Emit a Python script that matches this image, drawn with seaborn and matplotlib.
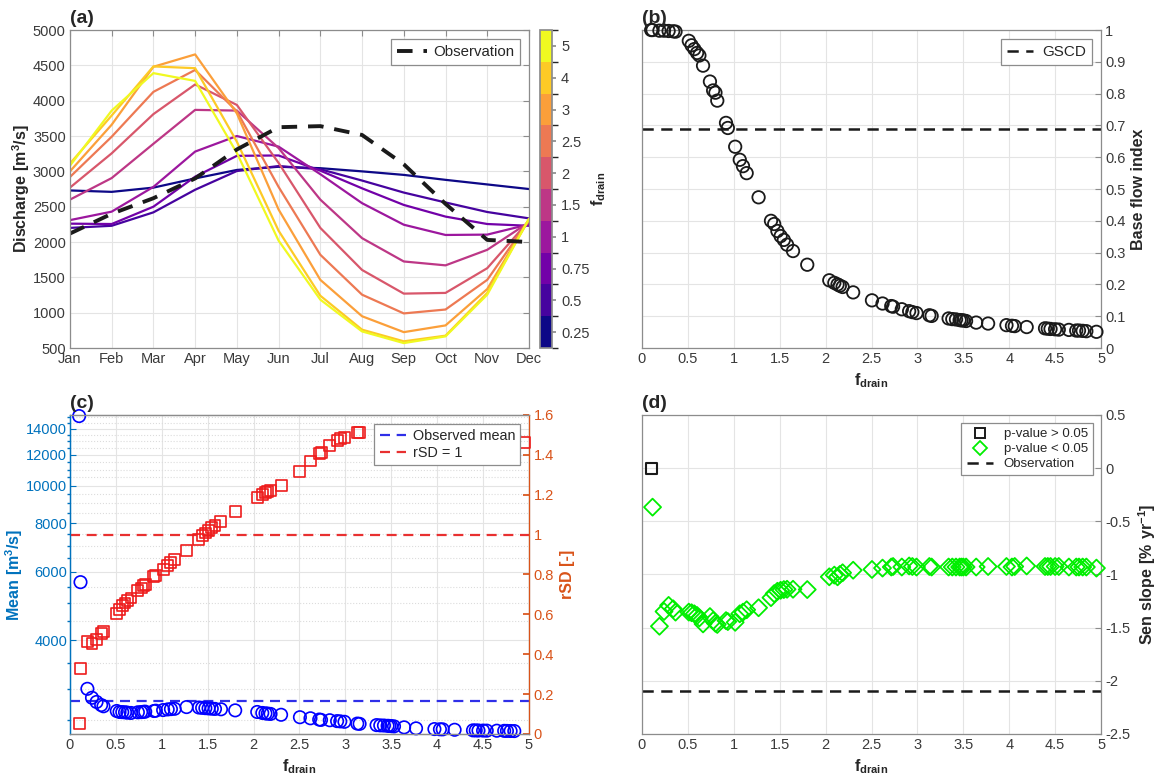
import numpy as np
import pandas as pd
import matplotlib
matplotlib.use("Agg")
import matplotlib.pyplot as plt
import seaborn as sns
from matplotlib.colors import ListedColormap, BoundaryNorm
from matplotlib.cm import ScalarMappable
from matplotlib.lines import Line2D
from matplotlib.ticker import FixedLocator, NullFormatter, FuncFormatter

# ---------------- data: panel (a) ----------------
months = ["Jan", "Feb", "Mar", "Apr", "May", "Jun", "Jul", "Aug", "Sep", "Oct", "Nov", "Dec"]
f_levels = [0.25, 0.5, 0.75, 1, 1.5, 2, 2.5, 3, 4, 5]
q_f025 = [2730, 2710, 2770, 2900, 3020, 3065, 3045, 3000, 2950, 2880, 2815, 2750]
q_f050 = [2200, 2230, 2420, 2740, 3005, 3075, 3030, 2870, 2700, 2560, 2425, 2335]
q_f075 = [2260, 2255, 2500, 2925, 3220, 3225, 3010, 2760, 2525, 2360, 2255, 2230]
q_f100 = [2310, 2430, 2780, 3280, 3500, 3350, 2960, 2550, 2245, 2100, 2105, 2250]
q_f150 = [2600, 2905, 3390, 3870, 3860, 3330, 2600, 2055, 1725, 1670, 1890, 2280]
q_f200 = [2770, 3255, 3810, 4230, 3940, 3120, 2200, 1605, 1270, 1280, 1630, 2300]
q_f250 = [2920, 3490, 4125, 4435, 3850, 2780, 1820, 1255, 990, 1045, 1465, 2310]
q_f300 = [3000, 3660, 4480, 4655, 3820, 2460, 1465, 950, 725, 820, 1335, 2320]
q_f400 = [3110, 3790, 4485, 4460, 3420, 2160, 1240, 760, 595, 675, 1280, 2325]
q_f500 = [3080, 3860, 4390, 4280, 3260, 2020, 1185, 735, 570, 665, 1255, 2330]
q_obs = [2120, 2400, 2620, 2900, 3310, 3625, 3640, 3515, 3100, 2540, 2030, 2000]
q_sim = [q_f025, q_f050, q_f075, q_f100, q_f150, q_f200, q_f250, q_f300, q_f400, q_f500]

# ---------------- data: panels (b)-(d) ----------------
f_drain = [0.10, 0.115, 0.19, 0.24, 0.29, 0.34, 0.365, 0.51, 0.54, 0.57,
           0.60, 0.625, 0.665, 0.74, 0.775, 0.80, 0.82, 0.915, 0.935, 1.015,
           1.065, 1.10, 1.14, 1.27, 1.405, 1.44, 1.475, 1.51, 1.545, 1.58,
           1.645, 1.80, 2.04, 2.095, 2.13, 2.155, 2.185, 2.30, 2.505, 2.62,
           2.715, 2.735, 2.83, 2.91, 2.945, 2.99, 3.13, 3.155, 3.34, 3.38,
           3.42, 3.46, 3.48, 3.50, 3.53, 3.64, 3.77, 3.97, 4.03, 4.06,
           4.19, 4.39, 4.42, 4.45, 4.50, 4.54, 4.65, 4.73, 4.76, 4.80,
           4.84, 4.95]
bfi = [1.0, 1.0, 0.998, 0.998, 0.997, 0.996, 0.995, 0.966, 0.952, 0.94,
       0.928, 0.92, 0.888, 0.838, 0.81, 0.803, 0.778, 0.708, 0.692, 0.633,
       0.592, 0.572, 0.55, 0.474, 0.40, 0.39, 0.368, 0.352, 0.34, 0.325,
       0.305, 0.262, 0.213, 0.205, 0.20, 0.196, 0.192, 0.175, 0.15, 0.14,
       0.132, 0.13, 0.122, 0.116, 0.113, 0.11, 0.103, 0.101, 0.093, 0.091,
       0.09, 0.088, 0.087, 0.087, 0.085, 0.08, 0.077, 0.072, 0.07, 0.069,
       0.066, 0.062, 0.061, 0.06, 0.059, 0.058, 0.057, 0.055, 0.055, 0.054,
       0.053, 0.051]
mean_q = [15100, 5650, 3005, 2850, 2780, 2730, 2710, 2635, 2620, 2618,
          2615, 2610, 2605, 2615, 2618, 2622, 2625, 2635, 2640, 2650,
          2660, 2665, 2670, 2697, 2690, 2685, 2680, 2676, 2672, 2668,
          2662, 2645, 2620, 2605, 2598, 2595, 2590, 2577, 2540, 2524,
          2505, 2500, 2495, 2482, 2478, 2472, 2446, 2442, 2424, 2420,
          2418, 2414, 2412, 2410, 2406, 2392, 2378, 2368, 2365, 2364,
          2358, 2350, 2349, 2348, 2347, 2346, 2345, 2343, 2342, 2341,
          2340, np.nan]
rsd = [0.054, 0.33, 0.466, 0.456, 0.476, 0.505, 0.514, 0.606, 0.626, 0.643,
       0.657, 0.668, 0.682, 0.719, 0.732, 0.744, 0.75, 0.79, 0.795, 0.824,
       0.845, 0.86, 0.874, 0.92, 0.975, 0.995, 1.008, 1.02, 1.034, 1.047,
       1.064, 1.117, 1.188, 1.20, 1.21, 1.214, 1.221, 1.246, 1.318, 1.369,
       1.405, 1.414, 1.449, 1.474, 1.482, 1.486, 1.511, 1.512, np.nan, np.nan,
       np.nan, np.nan, np.nan, np.nan, np.nan, np.nan, np.nan, np.nan, np.nan, np.nan,
       np.nan, np.nan, np.nan, np.nan, np.nan, np.nan, np.nan, np.nan, np.nan, np.nan,
       np.nan, 1.46]
sen_slope = [0.0, -0.367, -1.487, -1.348, -1.291, -1.323, -1.354, -1.354, -1.36, -1.37,
             -1.386, -1.408, -1.465, -1.396, -1.434, -1.459, -1.47, -1.434, -1.443, -1.45,
             -1.37, -1.354, -1.332, -1.313, -1.218, -1.18, -1.158, -1.149, -1.142, -1.139,
             -1.139, -1.142, -1.022, -1.006, -1.022, -1.0, -0.984, -0.96, -0.953, -0.94,
             -0.93, -0.925, -0.93, -0.92, -0.925, -0.93, -0.925, -0.93, -0.93, -0.93,
             -0.93, -0.93, -0.93, -0.93, -0.93, -0.93, -0.925, -0.925, -0.93, -0.925,
             -0.92, -0.925, -0.925, -0.925, -0.925, -0.925, -0.93, -0.93, -0.93, -0.93,
             -0.93, -0.94]
p_significant = [False] + [True] * 71
bfi_gscd = 0.69
obs_mean_q = 2800
obs_sen_slope = -2.1

# ---------------- style ----------------
sns.set_theme(style="whitegrid")
plt.rcParams["font.family"] = ["Liberation Sans", "DejaVu Sans"]
plt.rcParams["mathtext.fontset"] = "custom"
plt.rcParams["mathtext.rm"] = "Liberation Sans"
plt.rcParams["mathtext.bf"] = "Liberation Sans:bold"
plt.rcParams["axes.unicode_minus"] = False

TICK_C = "#3a3a3a"
SPINE_C = "#8c8c8c"
GRID_C = "#e4e4e4"
BLUE_AX = "#0072BD"
ORANGE_AX = "#D95319"
FS_TICK = 10.5
FS_LAB = 11.5
DASH = (0, (4.5, 3))

fig = plt.figure(figsize=(11.58, 7.8), dpi=100)


def style_axes(ax, right=False):
    ax.set_facecolor("white")
    for s in ax.spines.values():
        s.set_color(SPINE_C)
        s.set_linewidth(0.9)
    ax.grid(True, color=GRID_C, linewidth=0.8)
    ax.tick_params(direction="in", length=4, width=0.8, color=SPINE_C,
                   labelsize=FS_TICK, labelcolor=TICK_C, pad=3)
    if right:
        ax.yaxis.tick_right()
        ax.yaxis.set_label_position("right")


def legend_box(ax, handles, labels, fs, **kw):
    lg = ax.legend(handles, labels, loc="upper right", fontsize=fs, frameon=True,
                   fancybox=False, framealpha=1, edgecolor=SPINE_C, **kw)
    lg.get_frame().set_linewidth(0.9)
    return lg


gfmt = FuncFormatter(lambda v, p: f"{v:g}")
fdrain_label = r"$\mathbf{f_{drain}}$"

# ---------------- (a) ----------------
ax_a = fig.add_axes([0.0604, 0.5538, 0.3964, 0.4077])
style_axes(ax_a)
cmap = plt.get_cmap("plasma")
palette = {f: cmap(i / 9) for i, f in enumerate(f_levels)}
df_a = pd.DataFrame({
    "month": np.tile(np.arange(12), len(f_levels)),
    "Q": np.concatenate(q_sim),
    "f": np.repeat(f_levels, 12),
})
sns.lineplot(data=df_a, x="month", y="Q", hue="f", palette=palette, legend=False,
             linewidth=1.6, ax=ax_a)
sns.lineplot(x=np.arange(12), y=q_obs, color="k", linewidth=2.8,
             linestyle=(0, (4, 2.8)), ax=ax_a)
ax_a.set_xlim(0, 11)
ax_a.set_ylim(500, 5000)
ax_a.set_xticks(np.arange(12))
ax_a.set_xticklabels(months)
ax_a.set_yticks(np.arange(500, 5001, 500))
ax_a.set_xlabel("")
ax_a.set_ylabel(r"$\mathbf{Discharge\ [m^{3}/s]}$", fontsize=FS_LAB, color="#262626",
                labelpad=1)
ax_a.tick_params(top=True, right=True)
legend_box(ax_a, [Line2D([], [], color="k", lw=2.8, ls=(0, (4, 2.8)))],
           ["Observation"], 10.8, handlelength=2.0, handletextpad=0.4,
           borderaxespad=0.6)
ax_a.text(0.0, 1.008, "(a)", transform=ax_a.transAxes, ha="left", va="bottom",
          fontsize=14, fontweight="bold")

cax = fig.add_axes([0.4663, 0.5538, 0.0104, 0.4077])
cmap10 = ListedColormap([palette[f] for f in f_levels])
norm = BoundaryNorm(np.arange(11), 10)
cb = fig.colorbar(ScalarMappable(norm=norm, cmap=cmap10), cax=cax,
                  ticks=np.arange(10) + 0.5)
cb.set_ticklabels([f"{f:g}" for f in f_levels])
cb.outline.set_edgecolor(SPINE_C)
cb.ax.tick_params(labelsize=FS_TICK, labelcolor=TICK_C, color=SPINE_C, length=3)
cb.set_label(fdrain_label, fontsize=FS_LAB, labelpad=0)

# ---------------- (b) ----------------
ax_b = fig.add_axes([0.5544, 0.5538, 0.3964, 0.4077])
style_axes(ax_b, right=True)
sns.scatterplot(x=f_drain, y=bfi, marker="o", s=80, facecolor="none",
                edgecolor="k", linewidth=1.3, ax=ax_b, zorder=3, clip_on=False)
ax_b.axhline(bfi_gscd, color="k", lw=1.8, ls=DASH)
ax_b.set_xlim(0, 5)
ax_b.set_ylim(0, 1)
ax_b.set_xticks(np.arange(0, 5.01, 0.5))
ax_b.set_yticks(np.arange(0, 1.01, 0.1))
ax_b.xaxis.set_major_formatter(gfmt)
ax_b.yaxis.set_major_formatter(gfmt)
ax_b.set_xlabel(fdrain_label, fontsize=FS_LAB)
ax_b.set_ylabel("Base flow index", fontsize=FS_LAB, fontweight="bold", color="#262626")
legend_box(ax_b, [Line2D([], [], color="k", lw=1.8, ls=DASH)], ["GSCD"], 11,
           handlelength=1.7, handletextpad=0.6, borderaxespad=0.6)
ax_b.text(0.0, 1.008, "(b)", transform=ax_b.transAxes, ha="left", va="bottom",
          fontsize=14, fontweight="bold")

# ---------------- (c) ----------------
ax_c = fig.add_axes([0.0604, 0.059, 0.3964, 0.409])
style_axes(ax_c)
ax_c.set_yscale("log")
ax_c2 = ax_c.twinx()
ax_c2.grid(False)
sns.scatterplot(x=f_drain, y=mean_q, marker="o", s=80, facecolor="none",
                edgecolor="#0000ff", linewidth=1.2, ax=ax_c, zorder=3, clip_on=False)
ax_c.axhline(obs_mean_q, color="#2f2fe8", lw=1.6, ls=DASH)
sns.scatterplot(x=f_drain, y=rsd, marker="s", s=62, facecolor="none",
                edgecolor="#ee1c1c", linewidth=1.2, ax=ax_c2, zorder=3, clip_on=False)
ax_c2.axhline(1.0, color="#e83030", lw=1.6, ls=DASH)
ax_c.set_xlim(0, 5)
ax_c.set_ylim(2300, 15200)
ax_c.set_yticks([4000, 6000, 8000, 10000, 12000, 14000])
ax_c.yaxis.set_major_formatter(gfmt)
minor_q = [v for v in range(2500, 15001, 500) if v not in (4000, 6000, 8000, 10000, 12000, 14000)]
ax_c.yaxis.set_minor_locator(FixedLocator(minor_q))
ax_c.yaxis.set_minor_formatter(NullFormatter())
ax_c.grid(True, which="minor", axis="y", color="#dcdcdc", linewidth=0.8, linestyle=":")
ax_c.tick_params(axis="y", which="both", colors=BLUE_AX, labelcolor=BLUE_AX, pad=2)
ax_c.tick_params(axis="y", which="minor", length=2)
ax_c.set_xticks(np.arange(0, 5.01, 0.5))
ax_c.xaxis.set_major_formatter(gfmt)
ax_c.set_xlabel(fdrain_label, fontsize=FS_LAB)
ax_c.set_ylabel(r"$\mathbf{Mean\ [m^{3}/s]}$", fontsize=FS_LAB, color=BLUE_AX, labelpad=1)
ax_c.spines["left"].set_color(BLUE_AX)
ax_c2.set_ylim(0, 1.6)
ax_c2.set_yticks(np.arange(0, 1.61, 0.2))
ax_c2.yaxis.set_major_formatter(gfmt)
ax_c2.tick_params(axis="y", direction="in", length=4, colors=ORANGE_AX,
                  labelcolor=ORANGE_AX, labelsize=FS_TICK)
for s in ax_c2.spines.values():
    s.set_color(SPINE_C)
    s.set_linewidth(0.9)
ax_c2.spines["right"].set_color(ORANGE_AX)
ax_c2.spines["left"].set_color(BLUE_AX)
ax_c2.set_ylabel("rSD [-]", fontsize=FS_LAB, fontweight="bold", color=ORANGE_AX)
legend_box(ax_c2,
           [Line2D([], [], color="#2f2fe8", lw=1.6, ls=DASH),
            Line2D([], [], color="#e83030", lw=1.6, ls=DASH)],
           ["Observed mean", "rSD = 1"], 10.4, handlelength=1.8, handletextpad=0.5,
           labelspacing=0.25, borderaxespad=0.6, borderpad=0.35)
ax_c.text(0.0, 1.008, "(c)", transform=ax_c.transAxes, ha="left", va="bottom",
          fontsize=14, fontweight="bold")

# ---------------- (d) ----------------
ax_d = fig.add_axes([0.5544, 0.059, 0.3964, 0.409])
style_axes(ax_d, right=True)
f_arr = np.array(f_drain)
s_arr = np.array(sen_slope)
sig = np.array(p_significant)
sns.scatterplot(x=f_arr[~sig], y=s_arr[~sig], marker="s", s=60, facecolor="none",
                edgecolor="k", linewidth=1.5, ax=ax_d, zorder=3, clip_on=False)
sns.scatterplot(x=f_arr[sig], y=s_arr[sig], marker="D", s=75, facecolor="none",
                edgecolor="#00ee00", linewidth=1.3, ax=ax_d, zorder=3, clip_on=False)
ax_d.axhline(obs_sen_slope, color="k", lw=1.8, ls=DASH)
ax_d.set_xlim(0, 5)
ax_d.set_ylim(-2.5, 0.5)
ax_d.set_xticks(np.arange(0, 5.01, 0.5))
ax_d.set_yticks(np.arange(-2.5, 0.51, 0.5))
ax_d.xaxis.set_major_formatter(gfmt)
ax_d.yaxis.set_major_formatter(gfmt)
ax_d.set_xlabel(fdrain_label, fontsize=FS_LAB)
ax_d.set_ylabel(r"$\mathbf{Sen\ slope\ [\%\ yr^{-1}]}$", fontsize=FS_LAB, color="#262626")
legend_box(ax_d,
           [Line2D([], [], marker="s", ls="none", mfc="none", mec="k", ms=7, mew=1.4),
            Line2D([], [], marker="D", ls="none", mfc="none", mec="#00ee00", ms=7, mew=1.3),
            Line2D([], [], color="k", lw=1.8, ls=DASH)],
           ["p-value > 0.05", "p-value < 0.05", "Observation"], 9.5,
           handlelength=2.0, labelspacing=0.2, borderaxespad=0.6)
ax_d.text(0.0, 1.008, "(d)", transform=ax_d.transAxes, ha="left", va="bottom",
          fontsize=14, fontweight="bold")

fig.savefig("out.png", dpi=100)
